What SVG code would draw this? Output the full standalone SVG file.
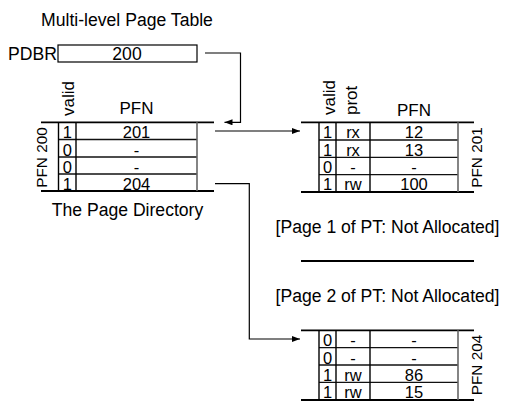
<svg xmlns="http://www.w3.org/2000/svg" width="514" height="419" viewBox="0 0 514 419">
<defs>
<style>
text{font-family:"Liberation Sans",Arial,Helvetica,sans-serif;fill:#000}
.big{font-size:17.6px}
.hd{font-size:17px}
.c{font-size:16.5px;text-anchor:middle}
.lbl{font-size:15.3px;text-anchor:middle}
.mid{text-anchor:middle}
.hb{stroke:#000;stroke-width:1.8;fill:none}
.rl{stroke:#111;stroke-width:1.3;fill:none}
.vl{stroke:#000;stroke-width:1.4;fill:none}
.vg{stroke:#666;stroke-width:1.6;fill:none}
.conn{stroke:#000;stroke-width:1.2;fill:none}
</style>
<marker id="ah" markerUnits="userSpaceOnUse" markerWidth="9" markerHeight="7" refX="8" refY="3" orient="auto">
<path d="M0,0 L8,3 L0,6 z" fill="#000"/>
</marker>
</defs>
<rect width="514" height="419" fill="#fff"/>

<g id="title">
<text class="big mid" x="127" y="26">Multi-level Page Table</text>
</g>

<g id="pdbr">
<text class="big" x="8" y="59.5">PDBR</text>
<rect x="58" y="45" width="139" height="17" fill="#fff" stroke="#000" stroke-width="1.2"/>
<text class="big mid" x="127" y="59.5">200</text>
</g>

<g id="page-directory">
<text class="hd" transform="translate(74,116) rotate(-90)">valid</text>
<text class="hd mid" x="136.5" y="114">PFN</text>
<text class="lbl" transform="translate(47,157.5) rotate(-90)">PFN 200</text>
<line class="hb" x1="41" y1="122.3" x2="214" y2="122.3"/>
<line class="hb" x1="41" y1="191" x2="214" y2="191"/>
<line class="rl" x1="58.5" y1="139.5" x2="197" y2="139.5"/>
<line class="rl" x1="58.5" y1="157" x2="197" y2="157"/>
<line class="rl" x1="58.5" y1="174" x2="197" y2="174"/>
<line class="vl" x1="58.5" y1="122.3" x2="58.5" y2="191"/>
<line class="vl" x1="76" y1="122.3" x2="76" y2="191"/>
<line class="vg" x1="197" y1="122.3" x2="197" y2="191"/>
<text class="c" x="67.3" y="138">1</text><text class="c" x="136.5" y="138">201</text>
<text class="c" x="67.3" y="155.5">0</text><text class="c" x="136.5" y="155.5">-</text>
<text class="c" x="67.3" y="172.8">0</text><text class="c" x="136.5" y="172.8">-</text>
<text class="c" x="67.3" y="189.8">1</text><text class="c" x="136.5" y="189.8">204</text>
<text class="big mid" x="127.5" y="216">The Page Directory</text>
</g>

<g id="pt-page-0">
<text class="hd" transform="translate(335,115) rotate(-90)">valid</text>
<text class="hd" transform="translate(357,115) rotate(-90)">prot</text>
<text class="hd mid" x="414" y="116">PFN</text>
<text class="lbl" transform="translate(482,157.5) rotate(-90)">PFN 201</text>
<line class="hb" x1="301" y1="122.3" x2="474" y2="122.3"/>
<line class="hb" x1="301" y1="192" x2="474" y2="192"/>
<line class="rl" x1="319" y1="140" x2="458" y2="140"/>
<line class="rl" x1="319" y1="157.3" x2="458" y2="157.3"/>
<line class="rl" x1="319" y1="174.7" x2="458" y2="174.7"/>
<line class="vl" x1="319" y1="122.3" x2="319" y2="192"/>
<line class="vl" x1="336" y1="122.3" x2="336" y2="192"/>
<line class="vl" x1="370" y1="122.3" x2="370" y2="192"/>
<line class="vg" x1="458" y1="122.3" x2="458" y2="192"/>
<text class="c" x="327.5" y="138.3">1</text><text class="c" x="353" y="138.3">rx</text><text class="c" x="414" y="138.3">12</text>
<text class="c" x="327.5" y="155.7">1</text><text class="c" x="353" y="155.7">rx</text><text class="c" x="414" y="155.7">13</text>
<text class="c" x="327.5" y="173">0</text><text class="c" x="353" y="173">-</text><text class="c" x="414" y="173">-</text>
<text class="c" x="327.5" y="190.4">1</text><text class="c" x="353" y="190.4">rw</text><text class="c" x="414" y="190.4">100</text>
</g>

<g id="pt-page-1">
<text class="big mid" x="387.5" y="233">[Page 1 of PT: Not Allocated]</text>
</g>

<g id="separator">
<line class="hb" x1="301" y1="261" x2="474" y2="261" stroke-width="1.5"/>
</g>

<g id="pt-page-2">
<text class="big mid" x="387.5" y="302">[Page 2 of PT: Not Allocated]</text>
</g>

<g id="pt-page-3">
<text class="lbl" transform="translate(482,365) rotate(-90)">PFN 204</text>
<line class="hb" x1="301" y1="330.3" x2="474" y2="330.3"/>
<line class="hb" x1="301" y1="400" x2="474" y2="400"/>
<line class="rl" x1="319" y1="347.7" x2="458" y2="347.7"/>
<line class="rl" x1="319" y1="365" x2="458" y2="365"/>
<line class="rl" x1="319" y1="382.3" x2="458" y2="382.3"/>
<line class="vl" x1="319" y1="330.3" x2="319" y2="400"/>
<line class="vl" x1="336" y1="330.3" x2="336" y2="400"/>
<line class="vl" x1="370" y1="330.3" x2="370" y2="400"/>
<line class="vg" x1="458" y1="330.3" x2="458" y2="400"/>
<text class="c" x="327.5" y="346.2">0</text><text class="c" x="353" y="346.2">-</text><text class="c" x="414" y="346.2">-</text>
<text class="c" x="327.5" y="363.5">0</text><text class="c" x="353" y="363.5">-</text><text class="c" x="414" y="363.5">-</text>
<text class="c" x="327.5" y="380.8">1</text><text class="c" x="353" y="380.8">rw</text><text class="c" x="414" y="380.8">86</text>
<text class="c" x="327.5" y="398.2">1</text><text class="c" x="353" y="398.2">rw</text><text class="c" x="414" y="398.2">15</text>
</g>

<g id="connectors">
<path class="conn" d="M205,53 H240.5 V122.3 H224.5" marker-end="url(#ah)"/>
<path class="conn" d="M215,131 H300" marker-end="url(#ah)"/>
<path class="conn" d="M215,183.7 H249.3 V339 H300" marker-end="url(#ah)"/>
</g>
</svg>
